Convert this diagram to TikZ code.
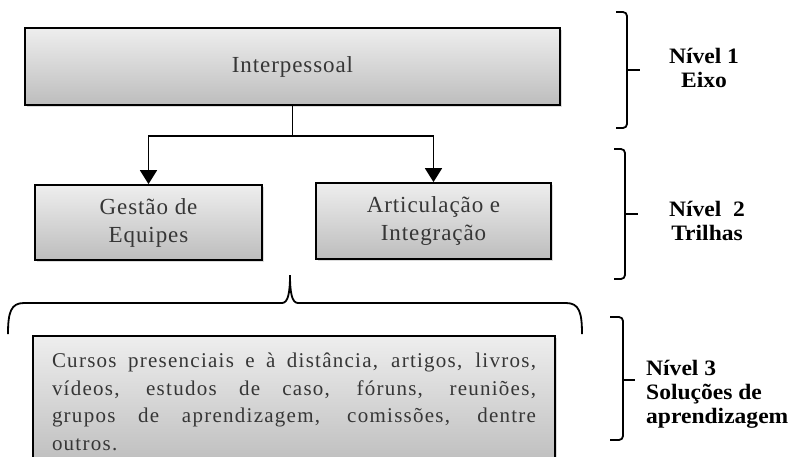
\documentclass[tikz,border=0pt]{standalone}
\usepackage{fontspec}
\setmainfont{Liberation Serif}
\newfontfamily\boxfont[LetterSpace=4]{Liberation Serif}
\newfontfamily\notesfont[LetterSpace=6]{Liberation Serif}
\newfontfamily\levelfont[FakeStretch=1.07]{Liberation Serif}
\usetikzlibrary{arrows.meta}
\usetikzlibrary{calc}
\usetikzlibrary{shadows}

\definecolor{boxtop}{HTML}{EEEEEE}
\definecolor{boxbottom}{HTML}{BDBDBD}
\definecolor{boxtext}{HTML}{363636}

% one justified line of the notes box
\newcommand{\spreadline}[1]{\makebox[484pt][s]{\spaceskip=0.25em plus 1fil\relax #1}}

\begin{document}
\begin{tikzpicture}[x=1pt, y=-1pt,
    box/.style={draw=black, line width=1.8pt, top color=boxtop, bottom color=boxbottom,
        drop shadow={shadow xshift=1.5pt, shadow yshift=-2pt, fill=black!30, opacity=.45},
        text=boxtext, align=center, inner sep=0pt, font=\boxfont\fontsize{23}{28}\selectfont},
    link/.style={line width=1.8pt},
    linkarrow/.style={link, -{Triangle[width=17pt,length=14pt]}},
    bracket/.style={line width=1.8pt, rounded corners=4pt},
    level/.style={inner sep=0pt, font=\levelfont\bfseries\fontsize{22}{24}\selectfont}]
  \useasboundingbox (0,0) rectangle (792,456);

  %boxes
  \node[box, minimum width=535pt, minimum height=77pt] (eixo) at (292.5,66.5) {Interpessoal};
  \node[box, minimum width=227pt, minimum height=75pt] (gestao) at (148.5,222.5) {Gestão de\\Equipes};
  \node[box, minimum width=235pt, minimum height=76pt] (articula) at (433.5,221) {Articulação e\\Integração};
  \node[box, anchor=north, text width=484pt, align=left, inner xsep=19pt, inner ysep=17pt,
        font=\notesfont\fontsize{21}{27.5}\selectfont] (solucoes) at (294,335)
    {\spreadline{Cursos presenciais e à distância, artigos, livros,}\\
     \spreadline{vídeos, estudos de caso, fóruns, reuniões,}\\
     \spreadline{grupos de aprendizagem, comissões, dentre}\\
     outros.};

  %connectors
  \coordinate (split) at ($(eixo.south)+(0,30)$);
  \draw[link] (eixo.south) -- (split);
  \draw[linkarrow] (split) -| (gestao.north);
  \draw[linkarrow] (split) -| (articula.north);

  %brace over the solutions
  \draw[link] (8,334) .. controls (8,312) and (11,303) .. (24,303) -- (282,303)
    .. controls (288,303) and (290,293) .. (290,275)
    .. controls (290,293) and (292,303) .. (298,303) -- (566,303)
    .. controls (579,303) and (582,312) .. (582,334);

  %levels
  \draw[bracket] (616,12) -- (627,12) -- (627,128) -- (616,128);
  \draw[link] (627,70) -- (640,70);
  \draw[bracket] (614,149) -- (625,149) -- (625,279) -- (614,279);
  \draw[link] (625,214) -- (638,214);
  \draw[bracket] (610,317) -- (623,317) -- (623,440) -- (610,440);
  \draw[link] (623,380) -- (635,380);

  \node[level, align=center] (lvleixo) at (704,68) {Nível 1\\Eixo};
  \node[level, align=center] (lvltrilha) at (707,221) {Nível~~2\\Trilhas};
  \node[level, align=left, anchor=west] (lvlsolucao) at (646,394) {Nível 3\\Soluções de\\aprendizagem};
\end{tikzpicture}
\end{document}
